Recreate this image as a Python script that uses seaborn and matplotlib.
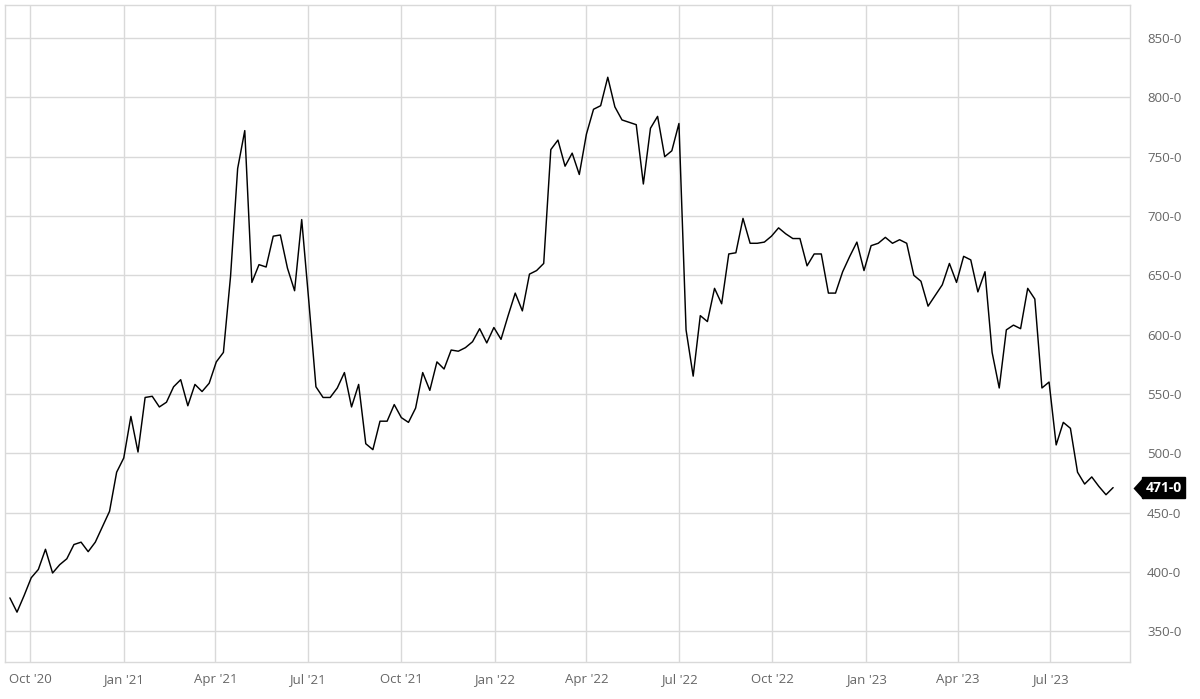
import pandas as pd
import matplotlib
matplotlib.use("Agg")
import matplotlib.pyplot as plt
import matplotlib.dates as mdates
import matplotlib.transforms as mtransforms
import seaborn as sns

# weekly closes (Fridays from 11 Sep 2020)
start_date = "2020-09-11"
prices = [
    378, 366, 380, 395, 402, 419, 399, 406, 411, 423,
    425, 417, 425, 438, 451, 484, 496, 531, 501, 547,
    548, 539, 543, 556, 562, 540, 558, 552, 559, 577,
    585, 649, 740, 772, 644, 659, 657, 683, 684, 656,
    637, 697, 628, 556, 547, 547, 555, 568, 539, 558,
    508, 503, 527, 527, 541, 530, 526, 538, 568, 553,
    577, 571, 587, 586, 589, 594, 605, 593, 606, 596,
    616, 635, 620, 651, 654, 660, 756, 764, 742, 753,
    735, 769, 790, 793, 817, 792, 781, 779, 777, 727,
    774, 784, 750, 755, 778, 604, 565, 616, 611, 639,
    626, 668, 669, 698, 677, 677, 678, 683, 690, 685,
    681, 681, 658, 668, 668, 635, 635, 653, 666, 678,
    654, 675, 677, 682, 677, 680, 677, 650, 645, 624,
    633, 642, 660, 644, 666, 663, 636, 653, 585, 555,
    604, 608, 605, 639, 630, 555, 560, 507, 526, 521,
    484, 474, 480, 472, 465, 471,
]
y_ticks = [350, 400, 450, 500, 550, 600, 650, 700, 750, 800, 850]
x_ticks = ["2020-10-01", "2021-01-01", "2021-04-01", "2021-07-01",
           "2021-10-01", "2022-01-01", "2022-04-01", "2022-07-01",
           "2022-10-01", "2023-01-01", "2023-04-01", "2023-07-01"]

df = pd.DataFrame({
    "date": pd.date_range(start=start_date, periods=len(prices), freq="7D"),
    "price": prices,
})

sns.set_style("white")
plt.rcParams["font.family"] = ["Open Sans", "DejaVu Sans"]

fig = plt.figure(figsize=(12, 6.99), dpi=100)
ax = fig.add_axes([0.004, 0.053, 0.938, 0.940])

sns.lineplot(data=df, x="date", y="price", color="black", linewidth=1.05, ax=ax)

grid_c = "#d9d9d9"
ax.grid(True, color=grid_c, linewidth=1)
ax.set_axisbelow(True)
for s in ax.spines.values():
    s.set_color(grid_c)
    s.set_linewidth(1)

ax.set_xlim(pd.Timestamp("2020-09-06"), pd.Timestamp("2023-09-18"))
ax.set_ylim(324, 878)

ax.yaxis.tick_right()
ax.set_yticks(y_ticks)
ax.set_yticklabels([f"{v}-0" for v in y_ticks])
ax.set_xticks(pd.to_datetime(x_ticks))
ax.xaxis.set_major_formatter(mdates.DateFormatter("%b '%y"))
ax.tick_params(axis="y", length=0, pad=12, labelsize=9.5, colors="#666666")
ax.tick_params(axis="x", length=0, pad=8, labelsize=9.5, colors="#666666")
ax.set_xlabel("")
ax.set_ylabel("")

# last value tag: small left-pointing tip plus a black box
last = prices[-1]
trans = mtransforms.blended_transform_factory(ax.transAxes, ax.transData)
ax.plot([1.0025], [last], transform=trans, marker=[(0, 0), (10, 11), (10, -11)],
        markersize=15.8, color="black", markeredgewidth=0, clip_on=False)
ax.text(1.0135, last, f"{last}-0", transform=trans, ha="left", va="center",
        color="white", fontsize=10, fontweight="bold", clip_on=False,
        bbox=dict(boxstyle="square,pad=0.25", fc="black", ec="black"))

fig.savefig("out.png", dpi=100)
